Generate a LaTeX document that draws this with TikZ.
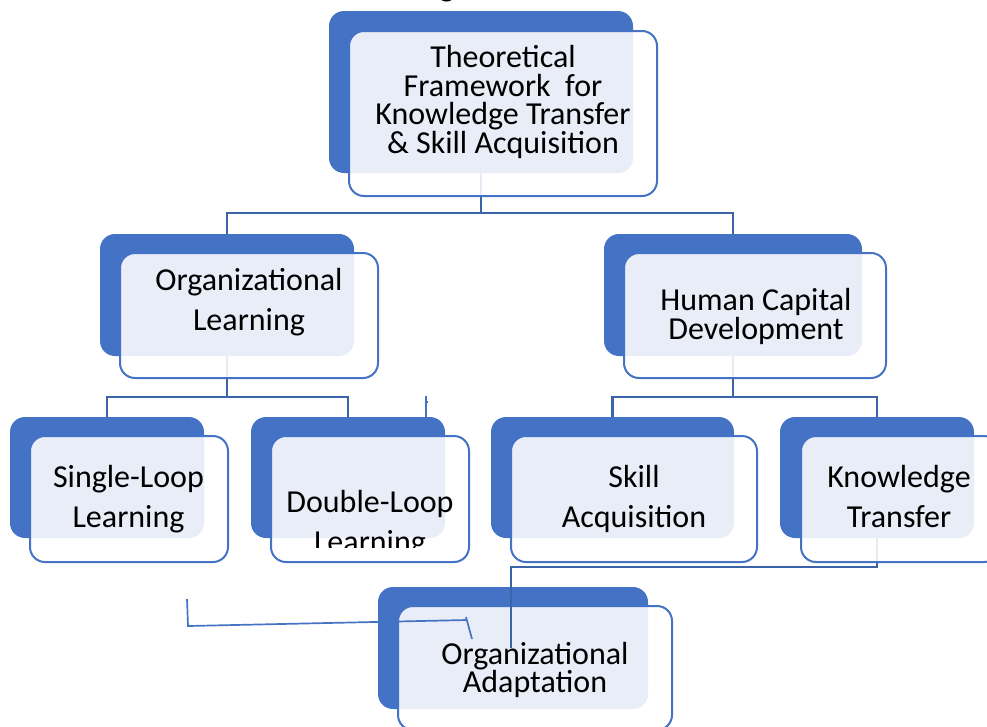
\documentclass[tikz,border=0pt]{standalone}
\usepackage{fontspec}
\setmainfont{Carlito}
\usetikzlibrary{fit}

\definecolor{accent}{HTML}{4472C4}
\definecolor{linkblue}{HTML}{3B63AA}

\tikzset{
  backbox/.style={fill=accent, rounded corners=15pt, inner sep=0pt},
  frontbox/.style={draw=accent, line width=2pt, fill=white, fill opacity=0.88, rounded corners=15pt, inner sep=0pt},
  link/.style={draw=linkblue, line width=2.4pt},
  thinlink/.style={draw=accent, line width=1.7pt},
  boxtext/.style={font=\fontsize{32pt}{#1}\selectfont, align=center, inner sep=0pt, text=black},
  boxtext/.default=28.6pt
}

\begin{document}
\begin{tikzpicture}[x=1pt,y=1pt,yscale=-1,xscale=1]
\useasboundingbox (0,0) rectangle (987,726);

%Heading line above (only its descender falls inside the page)
\node [boxtext, anchor=base] (head) at (447,-4) {g};

%Shape: back plates
\node [backbox, fit={(329,11) (633,173)}] (tfb) {};
\node [backbox, fit={(100,234) (354,356)}] (olb) {};
\node [backbox, fit={(604,234) (862,356)}] (hcb) {};
\node [backbox, fit={(10,417) (204,538)}] (slb) {};
\node [backbox, fit={(251,417) (445,538)}] (dlb) {};
\node [backbox, fit={(491,417) (734,538)}] (sab) {};
\node [backbox, fit={(780,417) (974,538)}] (ktb) {};
\node [backbox, fit={(378,587) (648,709)}] (oab) {};

%Shape: front card of the bottom box
\node [frontbox, fit={(398,606) (672,730)}] (oa) {};

%Straight Lines: tree connectors
\coordinate (oaend) at (511,648);
\draw [link] (tfb.south) -- ++(0,40) -| (olb.north);
\draw [link] (tfb.south) ++(0,40) -| (hcb.north);
\draw [link] (olb.south) -- ++(0,41) -| (slb.north);
\draw [link] (olb.south) ++(0,41) -| (dlb.north);
\draw [link] (hcb.south) -- ++(0,41) -| (sab.north);
\draw [link] (hcb.south) ++(0,41) -| (ktb.north);
\draw [link] (ktb.south) -- ++(0,29) -| (oaend);

%Shape: front cards
\node [frontbox, fit={(349,31) (657,196)}] (tf) {};
\node [frontbox, fit={(120,253) (378,378)}] (ol) {};
\node [frontbox, fit={(624,253) (886,378)}] (hc) {};
\node [frontbox, fit={(30,436) (228,562)}] (sl) {};
\node [frontbox, fit={(271,436) (469,562)}] (dl) {};
\node [frontbox, fit={(511,436) (757,562)}] (sa) {};
\node [frontbox, fit={(801,436) (999,562)}] (kt) {};

%Straight Lines: loose strokes
\coordinate (s1) at (187,599);
\coordinate (s2) at (188,626);
\coordinate (s3) at (467,620);
\coordinate (s4) at (466,617);
\coordinate (s5) at (472,639);
\coordinate (t1) at (426,396);
\coordinate (t2) at (426,417);
\draw [thinlink] (s1) -- (s2) -- (s3);
\draw [thinlink] (s4) -- (s5);
\draw [thinlink] (t1) -- (t2);
\draw [thinlink] (426,402) -- (428,402);

% Text Node
\node [boxtext] (tf-t) at (503,102) {Theoretical\\Framework\ \ for\\Knowledge Transfer\\\& Skill Acquisition};
% Text Node
\node [boxtext=40pt] (ol-t) at (249,302) {Organizational\\Learning};
% Text Node
\node [boxtext] (hc-t) at (756,316.6) {Human Capital\\Development};
% Text Node
\node [boxtext=40pt] (sl-t) at (128.5,499) {Single-Loop\\Learning};
% Text Node
\begin{scope}
\clip (0,0) rectangle (987,547);
\node [boxtext=40pt] (dl-t) at (370,524) {Double-Loop\\Learning};
\end{scope}
% Text Node
\node [boxtext=40pt] (sa-t) at (634,499) {Skill\\Acquisition};
% Text Node
\node [boxtext=40pt] (kt-t) at (899,496) {Knowledge\\Transfer};
% Text Node
\node [boxtext] (oa-t) at (535,670) {Organizational\\Adaptation};

\end{tikzpicture}
\end{document}
